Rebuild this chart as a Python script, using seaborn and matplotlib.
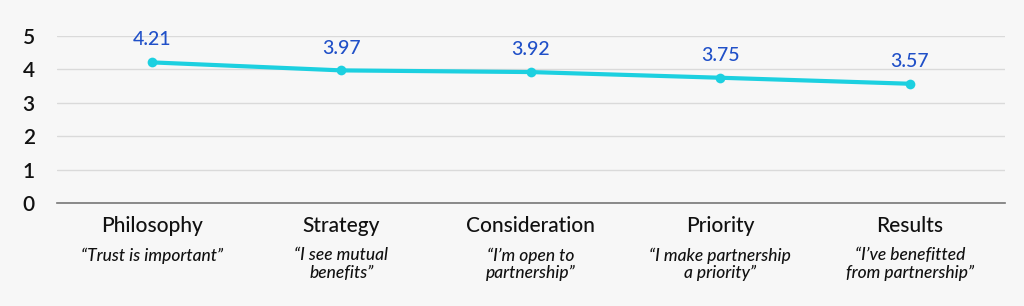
import matplotlib
matplotlib.use("Agg")
import matplotlib.pyplot as plt
import matplotlib.transforms as mtransforms
import seaborn as sns
import pandas as pd

categories = ["Philosophy", "Strategy", "Consideration", "Priority", "Results"]
quotes = ["\u201cTrust is important\u201d", "\u201cI see mutual\nbenefits\u201d",
          "\u201cI\u2019m open to\npartnership\u201d", "\u201cI make partnership\na priority\u201d",
          "\u201cI\u2019ve benefitted\nfrom partnership\u201d"]
values = [4.21, 3.97, 3.92, 3.75, 3.57]
yticks = [0, 1, 2, 3, 4, 5]

sns.set_theme(style="white")
plt.rcParams['font.family'] = ['Lato', 'DejaVu Sans']

bg = "#f7f7f7"
fig = plt.figure(figsize=(10.24, 3.06), dpi=100, facecolor=bg)
ax = fig.add_axes([0.0557, 0.3366, 0.9253, 0.5458])
ax.set_facecolor(bg)

df = pd.DataFrame({"x": range(len(categories)), "y": values})
sns.lineplot(data=df, x="x", y="y", ax=ax, color="#1cd0e0", linewidth=3,
             marker="o", markersize=7, markeredgewidth=0, clip_on=False, zorder=3)

for i, v in enumerate(values):
    ax.annotate(f"{v:.2f}", (i, v), xytext=(0, 10), textcoords="offset points",
                ha="center", va="bottom", color="#2050c8", fontsize=14,
                fontweight="medium", annotation_clip=False)

ax.set_xlim(-0.5, len(categories) - 0.5)
ax.set_ylim(0, 5)
ax.set_yticks(yticks)
ax.set_yticklabels([str(t) for t in yticks], fontsize=15, color="#111111", fontweight="semibold")
ax.set_xticks(range(len(categories)))
ax.set_xticklabels(categories, fontsize=15, color="#111111", fontweight="medium")
ax.tick_params(axis="x", length=0, pad=9)
ax.tick_params(axis="y", length=0, pad=16)
ax.set_xlabel("")
ax.set_ylabel("")
ax.grid(axis="y", color="#dadada", linewidth=1)
ax.grid(axis="x", visible=False)
for s in ["top", "right", "left"]:
    ax.spines[s].set_visible(False)
ax.spines["bottom"].set_color("#777777")
ax.spines["bottom"].set_linewidth(1.2)

trans = mtransforms.blended_transform_factory(ax.transData, ax.transAxes)
for i, q in enumerate(quotes):
    ax.text(i, -0.265, q, transform=trans, ha="center", va="top", fontsize=12.5,
            style="italic", fontweight="medium", color="#111111", linespacing=1.12)

fig.savefig("out.png", dpi=100, facecolor=bg)
